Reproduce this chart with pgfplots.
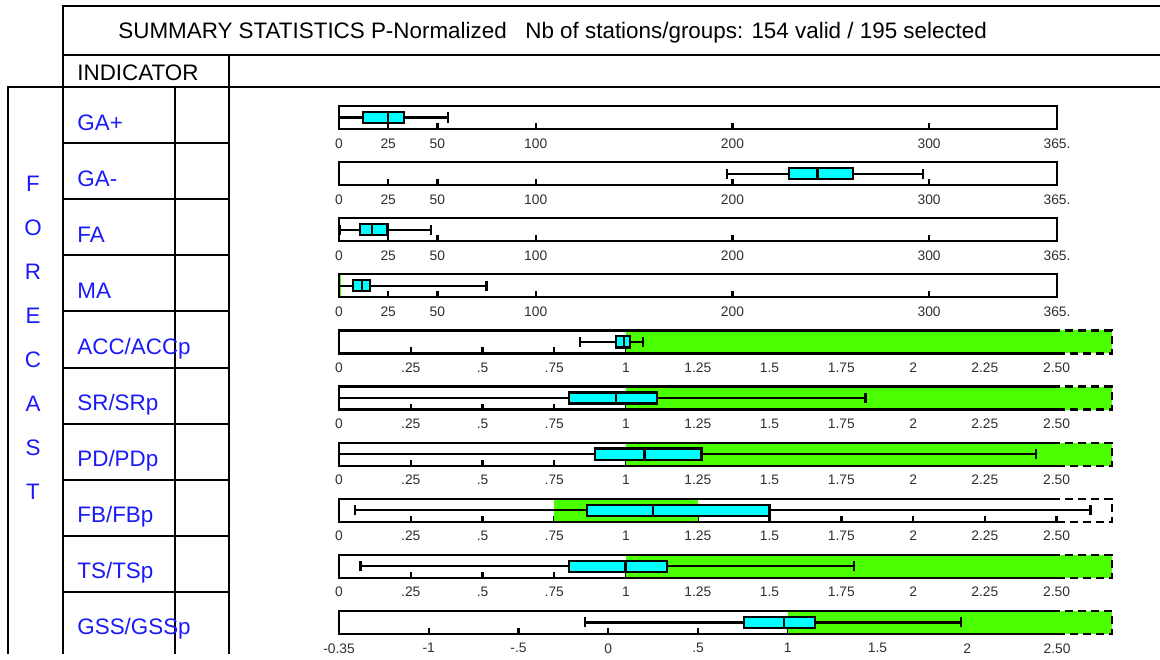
\documentclass[border=0pt]{standalone}
\usepackage{fontspec}
\setmainfont{Liberation Sans}
\usepackage{pgfplots}
\pgfplotsset{compat=1.18}
\usepgfplotslibrary{statistics}
\definecolor{lblue}{RGB}{25,25,250}
\definecolor{bgreen}{RGB}{76,255,0}
\definecolor{bcyan}{RGB}{0,255,255}
\definecolor{labgray}{RGB}{50,45,40}
\pgfplotsset{
  rowaxis/.style={
    scale only axis, height=11.5pt, ymin=0, ymax=1, anchor=south west,
    axis line style={draw=none}, clip=false,
    ytick=\empty, xtick pos=bottom, tick align=inside,
    major tick length=3pt, every major tick/.append style={black, line width=1.2pt},
    xticklabel style={font=\fontsize{6.9}{8}\selectfont, text=labgray, yshift=-1.2pt},
    /pgf/number format/assume math mode=true,
    boxplot/draw direction=x,
    boxplot/every whisker/.style={line width=1.1pt},
    boxplot/every box/.style={line width=1.1pt},
    boxplot/every median/.style={line width=1.1pt},
  },
  topaxis/.style={rowaxis, width=359pt, xmin=0, xmax=365,
    xtick={0,25,50,100,200,300,365}, xticklabels={0,25,50,100,200,300,365.}},
  ratioaxis/.style={rowaxis, width=386.5pt, xmin=0, xmax=2.693,
    xtick={0,0.25,0.5,0.75,1,1.25,1.5,1.75,2,2.25,2.5},
    xticklabels={0,.25,.5,.75,1,1.25,1.5,1.75,2,2.25,2.50}},
  bx/.style={fill=bcyan, draw=black, line width=1.1pt},
  fr/.style={black, line width=1.1pt},
  frd/.style={black, line width=1.1pt, dash pattern=on 4pt off 2.5pt},
}
\newcommand{\topframe}{\addplot[fr] coordinates {(0,0) (365,0) (365,1) (0,1)} -- cycle;}
\newcommand{\ratioframe}{%
  \addplot[fr] coordinates {(2.5,0) (0,0) (0,1) (2.5,1)};
  \addplot[frd] coordinates {(2.5,0) (2.693,0) (2.693,1) (2.5,1)};}
\begin{document}
\begin{tikzpicture}
\begin{scope}[x=0.5pt,y=-0.5pt]
\useasboundingbox (0,0) rectangle (1160,654);
\draw[line width=1pt] (1160,6) -- (63,6) -- (63,654);
\draw[line width=1pt] (63,55) -- (1160,55);
\draw[line width=1pt] (8,654) -- (8,87) -- (1160,87);
\draw[line width=1pt] (229,55) -- (229,654);
\draw[line width=1pt] (175,87) -- (175,654);
\foreach \i in {1,...,9} {\draw[line width=1pt] (63,87+56.1*\i) -- (229,87+56.1*\i);}
\node[anchor=base west, inner sep=0pt, font=\fontsize{11.2}{13}\selectfont] at (118,38)
  {SUMMARY STATISTICS P-Normalized\ \ \ Nb of stations/groups: 154 valid / 195 selected};
\node[anchor=base west, inner sep=0pt, font=\fontsize{11.2}{13}\selectfont] at (77,80) {INDICATOR};
\foreach \l [count=\k from 0] in {F,O,R,E,C,A,S,T} {
  \node[anchor=base, inner sep=0pt, text=lblue, font=\fontsize{11.2}{13}\selectfont] at (33,191+44.1*\k) {\l};}
\foreach \l [count=\k from 0] in {GA+,GA-,FA,MA,ACC/ACCp,SR/SRp,PD/PDp,FB/FBp,TS/TSp,GSS/GSSp} {
  \node[anchor=base west, inner sep=0pt, text=lblue, font=\fontsize{11.2}{13}\selectfont] at (77,130+56.1*\k) {\l};}
\end{scope}

% GA+
\begin{axis}[topaxis, at={(169.5pt,-64.5pt)}]
\topframe
\addplot[bx, boxplot prepared={draw position=0.5, box extend=0.48, whisker extend=0.44,
  lower whisker=0, lower quartile=12.3, median=24.8, upper quartile=33.0, upper whisker=55.5}] coordinates {};
\end{axis}
% GA-
\begin{axis}[topaxis, at={(169.5pt,-92.55pt)}]
\topframe
\addplot[bx, boxplot prepared={draw position=0.5, box extend=0.48, whisker extend=0.44,
  lower whisker=197.3, lower quartile=228.7, median=243.2, upper quartile=261.4, upper whisker=296.7}] coordinates {};
\end{axis}
% FA
\begin{axis}[topaxis, at={(169.5pt,-120.6pt)}]
\topframe
\addplot[bx, boxplot prepared={draw position=0.5, box extend=0.48, whisker extend=0.44,
  lower whisker=0.6, lower quartile=10.5, median=16.7, upper quartile=24.7, upper whisker=46.6}] coordinates {};
\end{axis}
% MA
\begin{axis}[topaxis, at={(169.5pt,-148.65pt)}]
\addplot[fill=bgreen, draw=none] coordinates {(0,0) (0.9,0) (0.9,1) (0,1)} -- cycle;
\topframe
\addplot[bx, boxplot prepared={draw position=0.5, box extend=0.48, whisker extend=0.44,
  lower whisker=0, lower quartile=7.0, median=11.7, upper quartile=15.9, upper whisker=75}] coordinates {};
\end{axis}
% ACC
\begin{axis}[ratioaxis, at={(169.5pt,-176.7pt)}]
\addplot[fill=bgreen, draw=none] coordinates {(1,0) (2.693,0) (2.693,1) (1,1)} -- cycle;
\ratioframe
\addplot[bx, boxplot prepared={draw position=0.5, box extend=0.48, whisker extend=0.44,
  lower whisker=0.839, lower quartile=0.966, median=0.994, upper quartile=1.013, upper whisker=1.058}] coordinates {};
\end{axis}
% SR
\begin{axis}[ratioaxis, at={(169.5pt,-204.75pt)}]
\addplot[fill=bgreen, draw=none] coordinates {(1,0) (2.693,0) (2.693,1) (1,1)} -- cycle;
\ratioframe
\addplot[bx, boxplot prepared={draw position=0.5, box extend=0.48, whisker extend=0.44,
  lower whisker=0, lower quartile=0.80, median=0.964, upper quartile=1.109, upper whisker=1.834}] coordinates {};
\end{axis}
% PD
\begin{axis}[ratioaxis, at={(169.5pt,-232.8pt)}]
\addplot[fill=bgreen, draw=none] coordinates {(1,0) (2.693,0) (2.693,1) (1,1)} -- cycle;
\ratioframe
\addplot[bx, boxplot prepared={draw position=0.5, box extend=0.48, whisker extend=0.44,
  lower whisker=0, lower quartile=0.893, median=1.064, upper quartile=1.263, upper whisker=2.429}] coordinates {};
\end{axis}
% FB
\begin{axis}[ratioaxis, at={(169.5pt,-260.85pt)}]
\addplot[fill=bgreen, draw=none] coordinates {(0.75,0) (1.25,0) (1.25,1) (0.75,1)} -- cycle;
\ratioframe
\addplot[bx, boxplot prepared={draw position=0.5, box extend=0.48, whisker extend=0.44,
  lower whisker=0.056, lower quartile=0.864, median=1.093, upper quartile=1.5, upper whisker=2.618}] coordinates {};
\end{axis}
% TS
\begin{axis}[ratioaxis, at={(169.5pt,-288.9pt)}]
\addplot[fill=bgreen, draw=none] coordinates {(1,0) (2.693,0) (2.693,1) (1,1)} -- cycle;
\ratioframe
\addplot[bx, boxplot prepared={draw position=0.5, box extend=0.48, whisker extend=0.44,
  lower whisker=0.075, lower quartile=0.80, median=0.998, upper quartile=1.144, upper whisker=1.795}] coordinates {};
\end{axis}
% GSS
\begin{axis}[rowaxis, width=386.5pt, xmin=-1.5, xmax=2.806, at={(169.5pt,-316.95pt)},
  xtick={-1.5,-1,-0.5,0,0.5,1,1.5,2,2.5}, xticklabels={-0.35,-1,-.5,0,.5,1,1.5,2,2.50}]
\addplot[fill=bgreen, draw=none] coordinates {(1,0) (2.806,0) (2.806,1) (1,1)} -- cycle;
\addplot[fr] coordinates {(2.5,0) (-1.5,0) (-1.5,1) (2.5,1)};
\addplot[frd] coordinates {(2.5,0) (2.806,0) (2.806,1) (2.5,1)};
\addplot[bx, boxplot prepared={draw position=0.5, box extend=0.48, whisker extend=0.44,
  lower whisker=-0.13, lower quartile=0.756, median=0.98, upper quartile=1.15, upper whisker=1.963}] coordinates {};
\end{axis}
\end{tikzpicture}
\end{document}
